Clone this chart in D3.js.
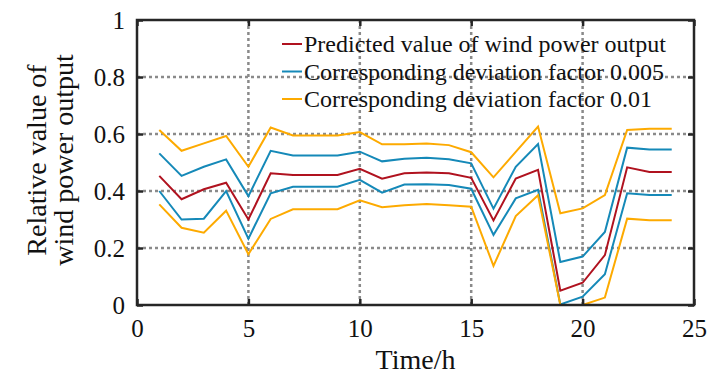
<!DOCTYPE html>
<html lang="en">
<head>
  <meta charset="UTF-8">
  <title>Wind power output</title>
  <style>
    body { margin: 0; background: #fff; }
    svg { display: block; }
    svg text { font-family: "Liberation Serif", "Times New Roman", serif !important; fill: #111; }
  </style>
  <script src="https://d3js.org/d3.v7.min.js"></script>
</head>
<body>
  <svg id="chart" width="709" height="378"></svg>
  <script>
    const hours = d3.range(1, 25);
    const predicted = [0.453, 0.371, 0.406, 0.429, 0.300, 0.462, 0.456, 0.456, 0.456, 0.478, 0.443, 0.462,
                       0.465, 0.462, 0.446, 0.297, 0.444, 0.474, 0.050, 0.078, 0.175, 0.483, 0.467, 0.467];
    const upper005 = [0.532, 0.453, 0.485, 0.511, 0.382, 0.541, 0.525, 0.525, 0.525, 0.538, 0.504, 0.513,
                      0.517, 0.511, 0.497, 0.338, 0.485, 0.565, 0.151, 0.170, 0.256, 0.552, 0.546, 0.546];
    const lower005 = [0.400, 0.300, 0.303, 0.400, 0.233, 0.392, 0.415, 0.415, 0.415, 0.439, 0.394, 0.423,
                      0.424, 0.421, 0.408, 0.246, 0.374, 0.404, 0.002, 0.029, 0.108, 0.392, 0.386, 0.386];
    const upper01 = [0.614, 0.541, 0.567, 0.593, 0.485, 0.623, 0.595, 0.595, 0.595, 0.607, 0.564, 0.564,
                     0.567, 0.561, 0.536, 0.448, 0.537, 0.626, 0.322, 0.339, 0.386, 0.614, 0.618, 0.618];
    const lower01 = [0.353, 0.271, 0.254, 0.331, 0.178, 0.302, 0.336, 0.336, 0.336, 0.367, 0.343, 0.350,
                     0.354, 0.350, 0.345, 0.137, 0.312, 0.385, 0.000, 0.000, 0.026, 0.303, 0.297, 0.297];
    const xTicks = [0, 5, 10, 15, 20, 25];
    const yTicks = [0, 0.2, 0.4, 0.6, 0.8, 1];
    const legendLabels = ['Predicted value of wind power output',
                          'Corresponding deviation factor 0.005',
                          'Corresponding deviation factor 0.01'];

    const red = '#b0121f', blue = '#1589b8', orange = '#fdaa00';
    const serif = '"Liberation Serif", "Times New Roman", serif';

    const svg = d3.select('#chart');
    const plotL = 137, plotR = 694, plotT = 20, plotB = 305;

    const x = d3.scaleLinear().domain([0, 25]).range([plotL, plotR]);
    const y = d3.scaleLinear().domain([0, 1]).range([plotB, plotT]);

    // grid
    const grid = svg.append('g')
      .attr('stroke', '#8a8a8a')
      .attr('stroke-width', 2.5)
      .attr('stroke-dasharray', '3 3');
    grid.selectAll('.gx').data(xTicks.slice(1, -1)).join('line').attr('class', 'gx')
      .attr('x1', d => x(d)).attr('x2', d => x(d))
      .attr('y1', plotT).attr('y2', plotB);
    grid.selectAll('.gy').data(yTicks.slice(1, -1)).join('line').attr('class', 'gy')
      .attr('y1', d => y(d)).attr('y2', d => y(d))
      .attr('x1', plotL).attr('x2', plotR);

    // series
    const series = [
      {v: predicted, c: red},
      {v: upper005, c: blue},
      {v: lower005, c: blue},
      {v: upper01, c: orange},
      {v: lower01, c: orange}
    ];
    const line = d3.line().x((d, i) => x(hours[i])).y(d => y(d));
    svg.append('g').selectAll('path').data(series).join('path')
      .attr('d', d => line(d.v))
      .attr('fill', 'none')
      .attr('stroke', d => d.c)
      .attr('stroke-width', 2)
      .attr('stroke-linejoin', 'miter');

    // axes with inward ticks on all sides
    const tickLen = 6;
    const styleTicks = g => {
      g.attr('font-family', null);
      g.select('.domain').remove();
      g.selectAll('line').attr('stroke', '#262626').attr('stroke-width', 2.5);
      g.selectAll('text').style('font-family', serif).style('font-size', '25px').attr('fill', '#111');
    };
    svg.append('g').attr('transform', `translate(0,${plotB})`)
      .call(d3.axisBottom(x).tickValues(xTicks).tickSizeInner(-tickLen).tickSizeOuter(0).tickPadding(14))
      .call(styleTicks);
    svg.append('g').attr('transform', `translate(0,${plotT})`)
      .call(d3.axisTop(x).tickValues(xTicks).tickSizeInner(-tickLen).tickSizeOuter(0).tickFormat(''))
      .call(styleTicks);
    svg.append('g').attr('transform', `translate(${plotL},0)`)
      .call(d3.axisLeft(y).tickValues(yTicks).tickSizeInner(-tickLen).tickSizeOuter(0).tickPadding(12)
        .tickFormat(d => d === 0 || d === 1 ? d3.format('d')(d) : d3.format('.1f')(d)))
      .call(styleTicks);
    svg.append('g').attr('transform', `translate(${plotR},0)`)
      .call(d3.axisRight(y).tickValues(yTicks).tickSizeInner(-tickLen).tickSizeOuter(0).tickFormat(''))
      .call(styleTicks);

    // frame
    svg.append('rect')
      .attr('x', plotL).attr('y', plotT)
      .attr('width', plotR - plotL).attr('height', plotB - plotT)
      .attr('fill', 'none').attr('stroke', '#262626').attr('stroke-width', 2.5);

    // axis titles
    svg.append('text')
      .attr('x', (plotL + plotR) / 2).attr('y', 369)
      .attr('text-anchor', 'middle')
      .style('font-family', serif).style('font-size', '28px')
      .text('Time/h');
    const yl = svg.append('text')
      .attr('transform', 'translate(46,160) rotate(-90)')
      .attr('text-anchor', 'middle')
      .style('font-family', serif).style('font-size', '28px');
    yl.append('tspan').attr('x', 0).attr('y', 0).text('Relative value of');
    yl.append('tspan').attr('x', 0).attr('y', 27).text('wind power output');

    // legend
    const legend = svg.append('g').attr('transform', 'translate(282,44)');
    const colors = [red, blue, orange];
    const rows = legend.selectAll('g').data(legendLabels).join('g')
      .attr('transform', (d, i) => `translate(0,${i * 27.5})`);
    rows.append('line')
      .attr('x1', 0).attr('x2', 20).attr('y1', 0).attr('y2', 0)
      .attr('stroke', (d, i) => colors[i]).attr('stroke-width', 2);
    rows.append('text')
      .attr('x', 22).attr('y', 8)
      .style('font-family', serif).style('font-size', '24px')
      .text(d => d);
  </script>
</body>
</html>
